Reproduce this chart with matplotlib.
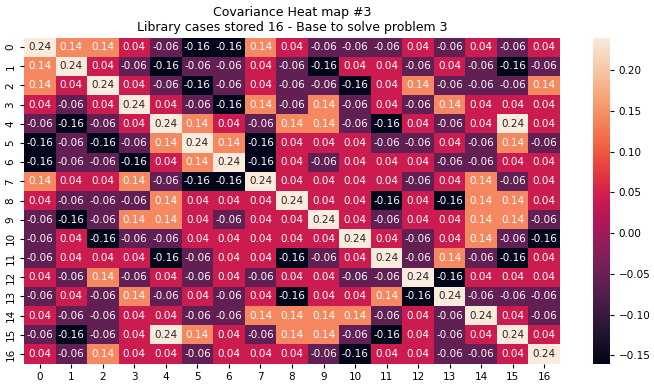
import matplotlib
matplotlib.use("Agg")
import matplotlib.pyplot as plt
import numpy as np
import seaborn as sns

# covariance values per row
labels = list(range(17))
rows = [
    [0.24, 0.14, 0.14, 0.04, -0.06, -0.16, -0.16, 0.14, 0.04, -0.06, -0.06, -0.06, 0.04, -0.06, 0.04, -0.06, 0.04],
    [0.14, 0.24, 0.04, -0.06, -0.16, -0.06, -0.06, 0.04, -0.06, -0.16, 0.04, 0.04, -0.06, 0.04, -0.06, -0.16, -0.06],
    [0.14, 0.04, 0.24, 0.04, -0.06, -0.16, -0.06, 0.04, -0.06, -0.06, -0.16, 0.04, 0.14, -0.06, -0.06, -0.06, 0.14],
    [0.04, -0.06, 0.04, 0.24, 0.04, -0.06, -0.16, 0.14, -0.06, 0.14, -0.06, 0.04, -0.06, 0.14, 0.04, 0.04, 0.04],
    [-0.06, -0.16, -0.06, 0.04, 0.24, 0.14, 0.04, -0.06, 0.14, 0.14, -0.06, -0.16, 0.04, -0.06, 0.04, 0.24, 0.04],
    [-0.16, -0.06, -0.16, -0.06, 0.14, 0.24, 0.14, -0.16, 0.04, 0.04, 0.04, -0.06, -0.06, 0.04, -0.06, 0.14, -0.06],
    [-0.16, -0.06, -0.06, -0.16, 0.04, 0.14, 0.24, -0.16, 0.04, -0.06, 0.04, 0.04, 0.04, -0.06, -0.06, 0.04, 0.04],
    [0.14, 0.04, 0.04, 0.14, -0.06, -0.16, -0.16, 0.24, 0.04, 0.04, 0.04, 0.04, -0.06, 0.04, 0.14, -0.06, 0.04],
    [0.04, -0.06, -0.06, -0.06, 0.14, 0.04, 0.04, 0.04, 0.24, 0.04, 0.04, -0.16, 0.04, -0.16, 0.14, 0.14, 0.04],
    [-0.06, -0.16, -0.06, 0.14, 0.14, 0.04, -0.06, 0.04, 0.04, 0.24, 0.04, -0.06, 0.04, 0.04, 0.14, 0.14, -0.06],
    [-0.06, 0.04, -0.16, -0.06, -0.06, 0.04, 0.04, 0.04, 0.04, 0.04, 0.24, 0.04, -0.06, 0.04, 0.14, -0.06, -0.16],
    [-0.06, 0.04, 0.04, 0.04, -0.16, -0.06, 0.04, 0.04, -0.16, -0.06, 0.04, 0.24, -0.06, 0.14, -0.06, -0.16, 0.04],
    [0.04, -0.06, 0.14, -0.06, 0.04, -0.06, 0.04, -0.06, 0.04, 0.04, -0.06, -0.06, 0.24, -0.16, 0.04, 0.04, 0.04],
    [-0.06, 0.04, -0.06, 0.14, -0.06, 0.04, -0.06, 0.04, -0.16, 0.04, 0.04, 0.14, -0.16, 0.24, -0.06, -0.06, -0.06],
    [0.04, -0.06, -0.06, 0.04, 0.04, -0.06, -0.06, 0.14, 0.14, 0.14, 0.14, -0.06, 0.04, -0.06, 0.24, 0.04, -0.06],
    [-0.06, -0.16, -0.06, 0.04, 0.24, 0.14, 0.04, -0.06, 0.14, 0.14, -0.06, -0.16, 0.04, -0.06, 0.04, 0.24, 0.04],
    [0.04, -0.06, 0.14, 0.04, 0.04, -0.06, 0.04, 0.04, 0.04, -0.06, -0.16, 0.04, 0.04, -0.06, -0.06, 0.04, 0.24],
]
cov = np.array(rows)

W, H = 654, 388
fig = plt.figure(figsize=(W / 100, H / 100), dpi=100)
ax = fig.add_axes([24 / W, (H - 363.5) / H, (560 - 24) / W, (363.5 - 37.5) / H])
cax = fig.add_axes([593 / W, (H - 363.5) / H, 17 / W, (363.5 - 37.5) / H])

sns.heatmap(cov, annot=True, fmt=".2f", ax=ax, cbar_ax=cax,
            xticklabels=labels, yticklabels=labels,
            annot_kws={"fontsize": 7.5})
ax.tick_params(labelsize=7.5, length=2.6)
plt.setp(ax.get_yticklabels(), rotation=90, va="center")
cax.tick_params(labelsize=7.5, length=2.6)
cax.yaxis.set_ticks([-0.15, -0.10, -0.05, 0.0, 0.05, 0.10, 0.15, 0.20])
for s in cax.spines.values():
    s.set_visible(False)
ax.set_title("Covariance Heat map #3\nLibrary cases stored 16 - Base to solve problem 3",
             fontsize=9, pad=4.5)

fig.savefig("out.png", dpi=100)
